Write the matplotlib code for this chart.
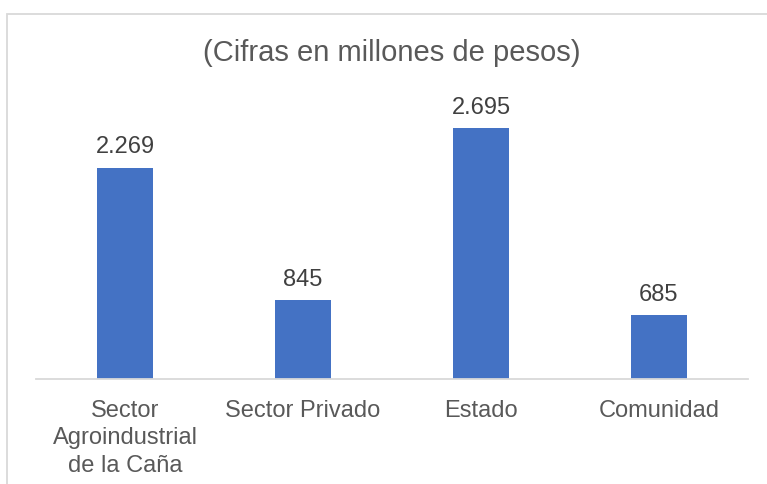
import matplotlib.pyplot as plt
import matplotlib.patches as mpatches

categories = ['Sector\nAgroindustrial\nde la Caña', 'Sector Privado', 'Estado', 'Comunidad']
values = [2269, 845, 2695, 685]
value_labels = ['2.269', '845', '2.695', '685']
title = '(Cifras en millones de pesos)'

BAR_COLOR = '#4472C4'
TEXT_COLOR = '#595959'
LABEL_COLOR = '#404040'
GRID_COLOR = '#D9D9D9'

plt.rcParams['font.family'] = ['Liberation Sans', 'DejaVu Sans']

W, H = 767, 484
fig = plt.figure(figsize=(W / 100, H / 100), dpi=100)
fig.patch.set_facecolor('white')

# marco del gráfico (solo se ve arriba e izquierda)
frame = mpatches.Rectangle((7 / W, -0.1), 1.2, (H - 14) / H + 0.1,
                           transform=fig.transFigure, fill=False,
                           edgecolor=GRID_COLOR, linewidth=1.3)
fig.patches.append(frame)

ax = fig.add_axes([36 / W, (H - 379) / H, (748 - 36) / W, (379 - 100) / H])
x = range(len(categories))
bars = ax.bar(x, values, width=0.315, color=BAR_COLOR)
ax.set_xlim(-0.5, len(categories) - 0.5)
ax.set_ylim(0, 3000)

for b, lab in zip(bars, value_labels):
    ax.annotate(lab, (b.get_x() + b.get_width() / 2, b.get_height()),
                xytext=(0, 7), textcoords='offset points',
                ha='center', va='bottom', fontsize=17, color=LABEL_COLOR)

ax.set_xticks(list(x))
ax.set_xticklabels(categories, fontsize=17, color=TEXT_COLOR, linespacing=1.32)
ax.tick_params(axis='x', length=0, pad=15)
ax.set_yticks([])
for s in ['top', 'right', 'left']:
    ax.spines[s].set_visible(False)
ax.spines['bottom'].set_color(GRID_COLOR)
ax.spines['bottom'].set_linewidth(1.3)

fig.text(392 / W, (H - 53) / H, title, ha='center', va='center',
         fontsize=21, color=TEXT_COLOR)

fig.savefig('out.png', dpi=100, facecolor='white')
